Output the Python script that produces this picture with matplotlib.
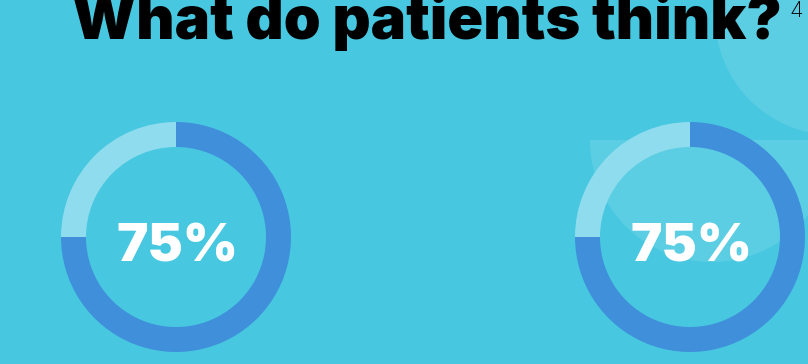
import matplotlib
matplotlib.use('Agg')
import matplotlib.pyplot as plt
from matplotlib.patches import Circle, Wedge

# chart content
title = 'What do patients think?'
footnote = '4'
share_values = [75, 25]          # percent agreeing / remaining
share_labels = ['75%', '75%']     # one per donut
donut_centers = [(176, 237), (690, 237)]   # pixel positions, from top-left

W, H = 808, 364
BG = '#47C8E0'
DECOR = '#5BCEE3'
DARK = '#408FDB'
LIGHT = '#8FDCEE'
FONT = 'Inter'

fig = plt.figure(figsize=(W / 100, H / 100), dpi=100)
fig.patch.set_facecolor(BG)
ax = fig.add_axes([0, 0, 1, 1])
ax.set_facecolor(BG)

# decorative background shapes
ax.add_patch(Circle((834, H - 16), 119, color=DECOR, lw=0, zorder=0))
ax.add_patch(Wedge((712, H - 140), 122, 180, 360, color=DECOR, lw=0, zorder=0))

ax.set_xlim(0, W)
ax.set_ylim(0, H)
r = fig.canvas.get_renderer()


def fit_text(x, y, s, width, **kw):
    # place text and rescale font so it spans the given pixel width
    t = ax.text(x, y, s, fontsize=36, **kw)
    w = t.get_window_extent(r).width
    t.set_fontsize(36 * width / w)
    return t


for (cx, cy), label in zip(donut_centers, share_labels):
    ax.pie(share_values, startangle=90, counterclock=False,
           colors=[DARK, LIGHT], radius=115, center=(cx, H - cy),
           wedgeprops=dict(width=25, linewidth=0), frame=True)
    fit_text(cx + 2, H - 262, label, 122, ha='center', va='baseline',
             color='white', fontweight='black', family=FONT)

ax.set_xlim(0, W)
ax.set_ylim(0, H)
ax.set_aspect('auto')
ax.axis('off')

fit_text(72, H - 39, title, 710, ha='left', va='baseline',
         color='black', fontweight='black', family=FONT)
ax.text(789, H - 17, footnote, ha='left', va='baseline',
        color='black', fontsize=16, fontweight='light', family=FONT)

fig.savefig('out.png', dpi=100, facecolor=BG)
